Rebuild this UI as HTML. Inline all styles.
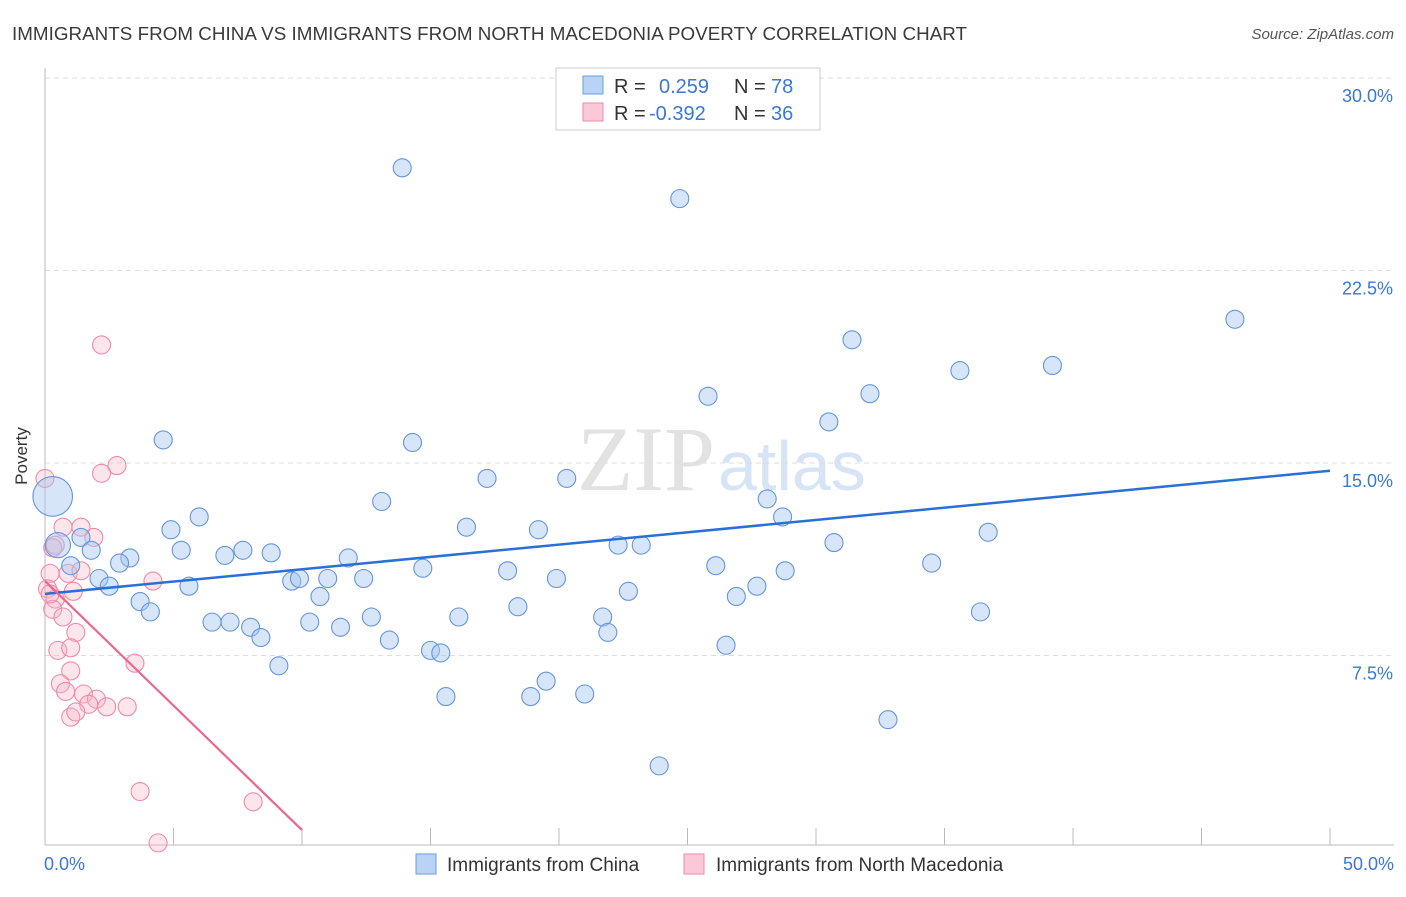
<!DOCTYPE html>
<html><head><meta charset="utf-8"><style>
body{margin:0;background:#fff;font-family:"Liberation Sans",sans-serif}
</style></head><body>
<svg id="c" width="1406" height="892" xmlns="http://www.w3.org/2000/svg" font-family="Liberation Sans, sans-serif">
<text x="12" y="40" font-size="18.8" fill="#3a3a3a" textLength="955">IMMIGRANTS FROM CHINA VS IMMIGRANTS FROM NORTH MACEDONIA POVERTY CORRELATION CHART</text>
<text x="1394" y="39" font-size="15" fill="#555" font-style="italic" text-anchor="end">Source: ZipAtlas.com</text>
<text x="27" y="456" font-size="17" fill="#333" text-anchor="middle" transform="rotate(-90 27 456)">Poverty</text>
<text x="715" y="490" font-size="92" fill="#e2e2e2" text-anchor="end" font-family="Liberation Serif, serif">ZIP</text>
<text x="718" y="490" font-size="70" fill="#d6e4f6">atlas</text>
<g id="grid"></g><g id="pts"></g><g id="trend"></g>
<rect x="556" y="68" width="264" height="62" fill="#fff" stroke="#ccc"/>
<rect x="583" y="76" width="20" height="18" fill="#b9d3f5" stroke="#6a9be0"/>
<rect x="583" y="103" width="20" height="18" fill="#fbc8d7" stroke="#f08aa8"/>
<g font-size="20">
<text x="614" y="93" fill="#333">R =</text><text x="659" y="93" fill="#3a78d4">0.259</text><text x="734" y="93" fill="#333">N =</text><text x="771" y="93" fill="#3a78d4">78</text></g>
<g font-size="20">
<text x="614" y="120" fill="#333">R =</text><text x="649" y="120" fill="#3a78d4">-0.392</text><text x="734" y="120" fill="#333">N =</text><text x="771" y="120" fill="#3a78d4">36</text></g>
<text x="44" y="870" font-size="18" fill="#3a78d4">0.0%</text>
<text x="1394" y="870" font-size="18" fill="#3a78d4" text-anchor="end">50.0%</text>
<rect x="416" y="854" width="20" height="20" fill="#b9d3f5" stroke="#6a9be0"/>
<text x="447" y="871" font-size="19" fill="#333">Immigrants from China</text>
<rect x="684" y="854" width="20" height="20" fill="#fbc8d7" stroke="#f08aa8"/>
<text x="716" y="871" font-size="19" fill="#333">Immigrants from North Macedonia</text>
</svg>
<script>
const yTicks=[7.5,15,22.5,30];
const yTickLabels=["7.5%","15.0%","22.5%","30.0%"];
const chinaX=[13.9,24.7,46.3,31.4,39.2,35.6,32.1,25.8,30.5,4.6,14.3,17.2,20.3,0.3,13.1,28.1,6.0,28.7,16.4,19.2,4.9,36.7,0.5,1.4,30.7,22.3,23.2,1.8,5.3,7.7,7.0,8.8,3.3,11.8,2.9,1.0,34.5,26.1,14.7,18.0,28.8,2.1,9.6,9.9,11.0,12.4,19.9,2.5,5.6,27.7,22.7,10.7,26.9,3.7,18.4,4.1,36.4,16.1,12.7,21.7,6.5,7.2,10.3,8.0,11.5,21.9,8.4,13.4,15.0,15.4,26.5,9.1,19.5,15.6,21.0,18.9,32.8,23.9];
const chinaY=[26.5,25.3,20.6,19.8,18.8,18.6,17.7,17.6,16.6,15.9,15.8,14.4,14.4,13.7,13.5,13.6,12.9,12.9,12.5,12.4,12.4,12.3,11.8,12.1,11.9,11.8,11.8,11.6,11.6,11.6,11.4,11.5,11.3,11.3,11.1,11.0,11.1,11.0,10.9,10.8,10.8,10.5,10.4,10.5,10.5,10.5,10.5,10.2,10.2,10.2,10.0,9.8,9.8,9.6,9.4,9.2,9.2,9.0,9.0,9.0,8.8,8.8,8.8,8.6,8.6,8.4,8.2,8.1,7.7,7.6,7.9,7.1,6.5,5.9,6.0,5.9,5.0,3.2];
const chinaSize=[1,1,1,1,1,1,1,1,1,1,1,1,1,2.2,1,1,1,1,1,1,1,1,1.4,1,1,1,1,1,1,1,1,1,1,1,1,1,1,1,1,1,1,1,1,1,1,1,1,1,1,1,1,1,1,1,1,1,1,1,1,1,1,1,1,1,1,1,1,1,1,1,1,1,1,1,1,1,1,1];
const macX=[0,2.2,2.8,2.2,0.7,1.4,0.3,1.9,0.4,0.2,0.9,1.4,4.2,0.1,1.1,0.4,0.3,0.7,1.2,0.5,1.0,3.5,1.0,0.6,0.8,1.5,2.0,1.7,2.4,3.2,1.0,1.2,3.7,8.1,4.4,0.2];
const macY=[14.4,19.6,14.9,14.6,12.5,12.5,11.7,12.1,11.8,10.7,10.7,10.8,10.4,10.1,10.0,9.7,9.3,9.0,8.4,7.7,7.8,7.2,6.9,6.4,6.1,6.0,5.8,5.6,5.5,5.5,5.1,5.3,2.2,1.8,0.2,9.9];
const chinaTrend=[[0,9.9],[50,14.7]];
const macTrend=[[0,10.4],[10,0.7]];
const X=v=>45+v/50*1285, Y=v=>848-v/30*770;
const NS="http://www.w3.org/2000/svg";
function mk(t,a,p){const e=document.createElementNS(NS,t);for(const k in a)e.setAttribute(k,a[k]);p.appendChild(e);return e;}
const g=document.getElementById('grid');
yTicks.forEach((t,i)=>{
 const l=mk('line',{x1:45,x2:1394,y1:Y(t),y2:Y(t),stroke:'#ddd','stroke-dasharray':'5,4'},g);
 
 
 const tx=mk('text',{x:1393,y:Y(t)+24,'font-size':18,fill:'#3a78d4','text-anchor':'end'},g);
 tx.textContent=yTickLabels[i];
 
 
});
for(let k=0;k<=10;k++){
 const l=mk('line',{x1:45+k*128.5,x2:45+k*128.5,y1:828,y2:845,stroke:'#bbb'},g);
 
 
}
let a=mk('line',{x1:45,x2:45,y1:68,y2:845,stroke:'#bbb'},g);


a=mk('line',{x1:45,x2:1394,y1:845,y2:845,stroke:'#bbb'},g);


const p=document.getElementById('pts');
macX.forEach((x,i)=>{
 const c=mk('circle',{cx:X(x),cy:Y(macY[i]),r:9,fill:'rgba(248,180,200,0.35)',stroke:'#f08aa8','stroke-width':1.1},p);
 
 
});
chinaX.forEach((x,i)=>{
 const c=mk('circle',{cx:X(x),cy:Y(chinaY[i]),r:9*chinaSize[i],fill:'rgba(164,198,240,0.45)',stroke:'#6595dc','stroke-width':1.1},p);
 
 
});
const tr=document.getElementById('trend');
let t=mk('line',{x1:X(chinaTrend[0][0]),y1:Y(chinaTrend[0][1]),x2:X(chinaTrend[1][0]),y2:Y(chinaTrend[1][1]),stroke:'#2a6fd6','stroke-width':2.5},tr);


t=mk('line',{x1:X(macTrend[0][0]),y1:Y(macTrend[0][1]),x2:X(macTrend[1][0]),y2:Y(macTrend[1][1]),stroke:'#e8688f','stroke-width':2.2},tr);


</script>
</body></html>
